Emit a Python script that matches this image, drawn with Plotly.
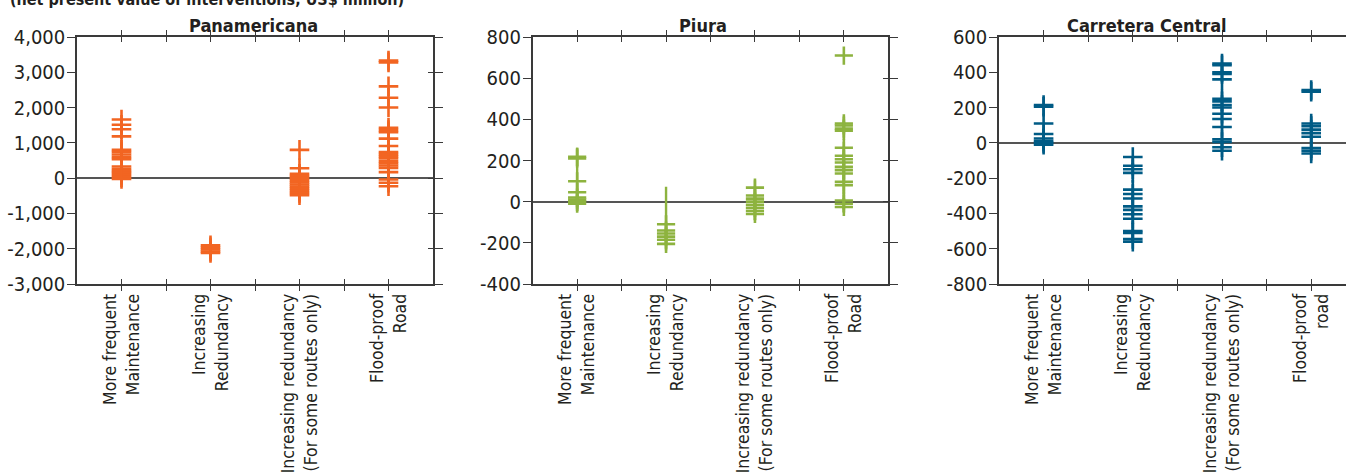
import plotly.graph_objects as go

# ---------------- data ----------------
cat_pos = [1, 2, 3, 4]
minor_pos = [1.5, 2.5, 3.5]
labels_a = ["More frequent<br>Maintenance", "Increasing<br>Redundancy",
            "Increasing redundancy<br>(For some routes only)", "Flood-proof<br>Road"]
labels_c = ["More frequent<br>Maintenance", "Increasing<br>Redundancy",
            "Increasing redundancy<br>(For some routes only)", "Flood-proof<br>road"]

titles = ["Panamericana", "Piura", "Carretera Central"]
header = "(net present value of interventions, US$ million)"

pan_maint = [1660, 1515, 1385, 1185, 800, 740, 670, 600, 540, 330, 260, 200, 150, 90, 30, -20]
pan_red = [-1900, -1960, -2020, -2080, -2120]
pan_routes = [800, 280, 120, 60, 0, -60, -120, -180, -240, -300, -360, -420, -480]
pan_flood = [3330, 3280, 2600, 2280, 2000, 1430, 1360, 1300, 1120, 910, 740, 680, 620, 560,
             480, 420, 360, 290, 170, -40, -130, -230]

piu_maint = [218, 210, 99, 46, 20, 10, 0, -10]
piu_red = [-110, -140, -155, -170, -185, -205]
piu_routes = [68, 30, 15, 0, -15, -30, -45, -60]
piu_flood = [710, 380, 370, 355, 345, 262, 223, 206, 190, 169, 153, 137, 96, 80, 6, -10, -26]
piu_range_low = [-47, -237, -91, -50]
piu_range_high = [262, 72, 104, 291]

car_maint = [215, 205, 110, 50, 25, 10, 0, -10]
car_red = [-80, -130, -150, -170, -265, -290, -315, -360, -380, -405, -430, -500, -510, -545, -560]
car_routes = [450, 440, 400, 390, 360, 250, 235, 215, 200, 165, 135, 90, 20, 5, -25, -45]
car_flood = [300, 290, 110, 95, 75, 55, 35, -30, -45, -60]

pan_yticks = [-3000, -2000, -1000, 0, 1000, 2000, 3000, 4000]
pan_ytext = ["-3,000", "-2,000", "-1,000", "0", "1,000", "2,000", "3,000", "4,000"]
piu_yticks = [-400, -200, 0, 200, 400, 600, 800]
piu_ytext = ["-400", "-200", "0", "200", "400", "600", "800"]
car_yticks = [-800, -600, -400, -200, 0, 200, 400, 600]
car_ytext = ["-800", "-600", "-400", "-200", "0", "200", "400", "600"]

colors = ["#f26522", "#8db33f", "#005b85"]

# ---------------- layout geometry ----------------
W, H = 1346, 474
domains = [[77 / W, 433 / W], [532.7 / W, 888.3 / W], [999 / W, 1.0]]
xranges = [[0.5, 4.5], [0.5, 4.5], [0.5, 4.39]]
yranges = [[-3000, 4000], [-400, 800], [-800, 600]]
yticks = [pan_yticks, piu_yticks, car_yticks]
ytext = [pan_ytext, piu_ytext, car_ytext]
xlabels = [labels_a, labels_a, labels_c]
series = [[pan_maint, pan_red, pan_routes, pan_flood],
          [piu_maint, piu_red, piu_routes, piu_flood],
          [car_maint, car_red, car_routes, car_flood]]
title_x = [253 / W, 703 / W, 1147 / W]

FONT = "Liberation Sans Narrow, DejaVu Sans Condensed, Arial Narrow, sans-serif"
TXT = "#231f20"
AX = "#3a3a3a"

fig = go.Figure()
layout = dict(
    width=W, height=H,
    margin=dict(l=0, r=0, t=37, b=190, autoexpand=False),
    paper_bgcolor="white", plot_bgcolor="white",
    showlegend=False,
    font=dict(family=FONT, color=TXT),
)

all_tickvals = sorted(cat_pos + minor_pos)

for i in range(3):
    n = i + 1
    xa = "x" if n == 1 else f"x{n}"
    ya = "y" if n == 1 else f"y{n}"
    col = colors[i]
    # range lines (Piura only)
    if i == 1:
        for k, c in enumerate(cat_pos):
            fig.add_trace(go.Scatter(
                x=[c, c], y=[piu_range_low[k], piu_range_high[k]], mode="lines",
                line=dict(color=col, width=2.4), xaxis=xa, yaxis=ya, hoverinfo="skip"))
    for k, vals in enumerate(series[i]):
        fig.add_trace(go.Scatter(
            x=[cat_pos[k]] * len(vals), y=vals, mode="markers",
            marker=dict(symbol="cross-thin", size=14 if i != 1 else 13,
                        line=dict(color=col, width=2.6)),
            xaxis=xa, yaxis=ya))
    ticktext = []
    for v in all_tickvals:
        ticktext.append(xlabels[i][cat_pos.index(v)] if v in cat_pos else "")
    layout[f"xaxis{n}" if n > 1 else "xaxis"] = dict(
        domain=domains[i], range=xranges[i], anchor=ya, automargin=False,
        tickmode="array", tickvals=all_tickvals, ticktext=ticktext,
        tickangle=-90, ticks="outside", ticklen=5, tickwidth=1.3, tickcolor=AX,
        ticklabelstandoff=-4,
        showline=True, linecolor=AX, linewidth=1.5, mirror="ticks",
        showgrid=False, zeroline=False,
        tickfont=dict(family=FONT, size=17.5, color=TXT),
    )
    layout[f"yaxis{n}" if n > 1 else "yaxis"] = dict(
        domain=[0, 1], range=yranges[i], anchor=xa, automargin=False,
        tickmode="array", tickvals=yticks[i], ticktext=ytext[i],
        ticks="outside", ticklen=8, tickwidth=1.3, tickcolor=AX,
        ticklabelstandoff=-2,
        showline=True, linecolor=AX, linewidth=1.5,
        mirror="ticks" if i < 2 else False,
        showgrid=False, zeroline=True, zerolinecolor="#555555", zerolinewidth=1.5,
        tickfont=dict(family=FONT, size=20, color=TXT),
    )
    # overlay axes for inward tick marks (crossing ticks)
    m = n + 3
    ox = f"x{m}"
    oy = f"y{m}" if i < 2 else ya
    layout[f"xaxis{m}"] = dict(
        overlaying=xa, range=xranges[i], anchor=oy, side="bottom", automargin=False,
        tickmode="array", tickvals=all_tickvals, showticklabels=False,
        ticks="inside", ticklen=5, tickwidth=1.3, tickcolor=AX,
        showline=False, mirror="ticks", showgrid=False, zeroline=False,
    )
    if i < 2:
        layout[f"yaxis{m}"] = dict(
            overlaying=ya, range=yranges[i], anchor=ox, side="right", automargin=False,
            tickmode="array", tickvals=yticks[i], showticklabels=False,
            ticks="inside", ticklen=5, tickwidth=1.3, tickcolor=AX,
            showline=False, showgrid=False, zeroline=False,
        )
    fig.add_trace(go.Scatter(x=[None], y=[None], xaxis=ox, yaxis=oy,
                             mode="markers", hoverinfo="skip"))

annotations = []
for i in range(3):
    annotations.append(dict(
        text=f"<b>{titles[i]}</b>", x=title_x[i], y=1, xref="paper", yref="paper",
        xanchor="center", yanchor="bottom", yshift=-1, showarrow=False,
        font=dict(family=FONT, size=18, color=TXT)))
annotations.append(dict(
    text=f"<b>{header}</b>", x=8 / W, y=1 + 37 / 247, xref="paper", yref="paper",
    xanchor="left", yanchor="middle", yshift=1, showarrow=False,
    font=dict(family=FONT, size=16, color=TXT)))
layout["annotations"] = annotations

fig.update_layout(**layout)
fig.write_html(
    "out.html",
    config={"displayModeBar": False},
    post_script="document.body.style.margin='0';document.documentElement.style.overflow='hidden';",
)
